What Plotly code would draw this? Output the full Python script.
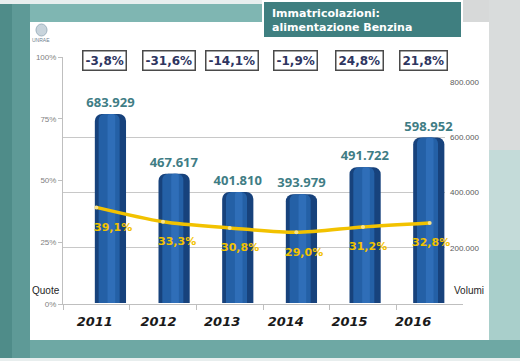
import plotly.graph_objects as go

# ---- data ----
years = ["2011", "2012", "2013", "2014", "2015", "2016"]
volumi = [683929, 467617, 401810, 393979, 491722, 598952]
quote = [39.1, 33.3, 30.8, 29.0, 31.2, 32.8]
variazioni = [-3.8, -31.6, -14.1, -1.9, 24.8, 21.8]
quote_ticks = [0, 25, 50, 75, 100]
volumi_ticks = [200000, 400000, 600000, 800000]

W, H = 520, 361


def px(x):
    return x / W


def py(y):
    return 1 - y / H


def it(v):
    return f"{v:.1f}".replace(".", ",") + "%"


fig = go.Figure()

fig.add_trace(go.Bar(
    x=years, y=volumi, xaxis="x", yaxis="y",
    width=0.49, offset=0,
    marker=dict(color="#17427C", cornerradius=7, line=dict(width=0)),
    texttemplate="<b>%{y:,d}</b>", textposition="outside", constraintext="none",
    textfont=dict(family="Open Sans", size=13, color="#3F7D85"),
    cliponaxis=False, hoverinfo="skip",
))
fig.add_trace(go.Bar(
    x=years, y=volumi, xaxis="x", yaxis="y",
    width=0.33, offset=0.06,
    marker=dict(color="#2460A6", cornerradius=6, line=dict(width=0)),
    hoverinfo="skip",
))
fig.add_trace(go.Bar(
    x=years, y=volumi, xaxis="x", yaxis="y",
    width=0.12, offset=0.2,
    marker=dict(color="#2F6EB8", cornerradius=3, line=dict(width=0)),
    hoverinfo="skip",
))

fig.add_trace(go.Scatter(
    x=years, y=quote, xaxis="x2", yaxis="y2",
    mode="lines+markers",
    line=dict(color="#F2C200", width=3.5, shape="spline", smoothing=0.8),
    marker=dict(size=4, color="#F9E38C"),
    hoverinfo="skip",
))

shapes = []


def rect(x0, y0, x1, y1, color, line=None):
    shapes.append(dict(type="rect", xref="paper", yref="paper", x0=px(x0), x1=px(x1), y0=py(y1), y1=py(y0),
                       fillcolor=color, line=line or dict(width=0), layer="below"))


rect(0, 0, 30, 361, "#5E9A97")
rect(0, 0, 12, 361, "#4F8C89")
rect(30, 0, 263, 22, "#7FB6B2")
rect(0, 0, 520, 4, "#E8EEEE")
rect(462, 0, 520, 22, "#D7D9D9")
rect(489, 0, 520, 150, "#D9DCDC")
rect(489, 150, 520, 250, "#C4DBD9")
rect(489, 250, 520, 340, "#A9CFCB")
rect(30, 340, 520, 358, "#6EA8A4")
rect(0, 358, 520, 361, "#E8EEEE")
rect(30, 22, 489, 340, "#FFFFFF")
rect(263, 1, 462, 38, "#3F7F80", dict(color="#FFFFFF", width=2))
shapes.append(dict(type="circle", xref="paper", yref="paper", x0=px(36), x1=px(47), y0=py(36), y1=py(24),
                   fillcolor="#C8D4DC", line=dict(color="#9FB3C0", width=1), layer="below"))

annotations = []
annotations.append(dict(xref="paper", yref="paper", x=px(270), y=py(20), xanchor="left", yanchor="middle",
                        text="<b>Immatricolazioni:<br>alimentazione Benzina</b>", align="left", showarrow=False,
                        font=dict(family="DejaVu Sans", size=11, color="#FFFFFF")))
annotations.append(dict(xref="paper", yref="paper", x=px(41), y=py(40), xanchor="center", yanchor="middle",
                        text="UNRAE", showarrow=False,
                        font=dict(family="Liberation Sans", size=5, color="#6F7F8F")))
for i, v in enumerate(variazioni):
    annotations.append(dict(xref="x", yref="paper", x=i, xshift=10, y=py(61), yanchor="middle",
                            xanchor="center",
                            text="<b>" + it(v) + "</b>", showarrow=False, bgcolor="#FFFFFF",
                            bordercolor="#4A4A4A", borderwidth=1.5, borderpad=2,
                            font=dict(family="DejaVu Sans", size=12, color="#2E3560")))
for i, q in enumerate(quote):
    annotations.append(dict(xref="x", yref="y2", x=i, y=q, xshift=18, yshift=-20,
                            xanchor="center", yanchor="middle",
                            text="<b>" + it(q) + "</b>", showarrow=False,
                            font=dict(family="DejaVu Sans", size=11, color="#F2C200")))
annotations.append(dict(xref="paper", yref="paper", x=px(45.5), y=py(290), xanchor="center", yanchor="middle",
                        text="Quote", showarrow=False,
                        font=dict(family="Liberation Sans", size=10, color="#262626")))
annotations.append(dict(xref="paper", yref="paper", x=px(468.5), y=py(290), xanchor="center", yanchor="middle",
                        text="Volumi", showarrow=False,
                        font=dict(family="Liberation Sans", size=10, color="#262626")))

fig.update_layout(
    template="none",
    width=W, height=H, autosize=False,
    margin=dict(l=0, r=0, t=0, b=0, pad=0),
    paper_bgcolor="#74ACA8", plot_bgcolor="rgba(0,0,0,0)",
    separators=",.",
    showlegend=False, barmode="overlay",
    shapes=shapes, annotations=annotations,
    xaxis=dict(domain=[px(63), px(445)], type="category", anchor="y", automargin=False,
               range=[-0.5, len(years) - 0.5],
               showline=False, showgrid=False, ticks="", ticklabelstandoff=9,
               tickvals=years, ticktext=["<b><i>" + y + "</i></b>" for y in years],
               tickfont=dict(family="DejaVu Sans", size=13, color="#1A1A1A")),
    yaxis=dict(domain=[py(303), py(82)], range=[0, 800000], anchor="x", side="right", automargin=False,
               tickvals=volumi_ticks, tickformat=",d", showgrid=True, gridcolor="#C8C8C8",
               showline=False, zeroline=False, ticks="", ticklabelstandoff=4,
               tickfont=dict(family="Liberation Sans", size=8, color="#595959")),
    xaxis2=dict(domain=[px(63), px(463)], type="category", anchor="y2", automargin=False,
                range=[-0.5, len(years) - 0.5],
                showline=True, linecolor="#BFBFBF", showgrid=False,
                ticks="outside", tickson="boundaries", ticklen=5, tickcolor="#BFBFBF",
                showticklabels=False),
    yaxis2=dict(domain=[py(304), py(57)], range=[0, 100], anchor="x2", side="left", automargin=False,
                tickvals=quote_ticks, ticktext=[f"{t}%" for t in quote_ticks],
                showgrid=False, zeroline=False,
                showline=True, linecolor="#BFBFBF", ticks="outside", ticklen=4, tickcolor="#BFBFBF",
                tickfont=dict(family="Liberation Sans", size=8, color="#7F7F7F")),
)

fig.write_html("out.html", config={"displayModeBar": False},
               post_script="document.body.style.margin='0';document.body.style.padding='0';")
